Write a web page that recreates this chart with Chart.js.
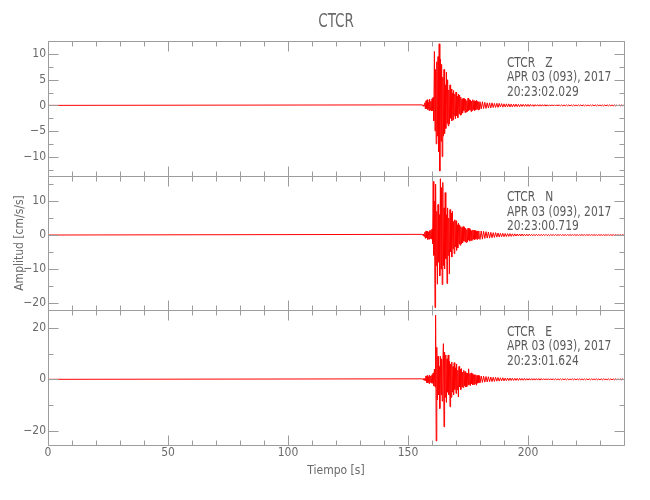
<!DOCTYPE html>
<html>
<head>
<meta charset="utf-8">
<script src="https://cdn.jsdelivr.net/npm/chart.js@4.4.1/dist/chart.umd.min.js"></script>
<style>
  html, body { margin: 0; padding: 0; background: #fff; }
  #sismo { display: block; }
</style>
</head>
<body>
<canvas id="sismo" width="650" height="500"></canvas>
<script>
  // estacion y componentes
  const titulo = "CTCR";
  const componentes = ["Z", "N", "E"];
  const fecha = "APR 03 (093), 2017";
  const horas = ["20:23:02.029", "20:23:00.719", "20:23:01.624"];

  // ejes
  const ejeX = { min: 0, max: 240, paso: 50, menor: 10 };
  const rangosY = [[-13.7, 12.55], [-22.2, 17.5], [-25.6, 26.9]];
  const pasosY = [5, 10, 20];
  const menoresY = [2.5, 5, 10];

  // antes de la llegada la traza es practicamente plana
  const tiempoPrevio = 0;
  const valorPrevio = 0;

  // fase fuerte: muestras cada 0.25 s desde 156 s (cm/s/s)
  const inicioFino = 156;
  const pasoFino = 0.25;

  const finoZ = [
    0.1, -0.15, 0.1, -0.1, 0.5, -0.7, 0.9, -0.6,
    1.1, -0.8, 0.6, -1.0, 1.2, -0.9, 0.8, -1.1,
    1.3, -1.0, 1.6, -3.0, 10.5, -5.0, 7.0, -7.5,
    8.5, -6.0, 9.5, -9.0, 12.0, -12.8, 9.0, -7.0,
    8.0, -10.0, 5.5, -6.0, 7.0, -5.5, 4.0, -4.5,
    6.5, -3.5, 5.0, -4.0, 3.0, -3.6, 4.0, -2.5,
    3.2, -3.0, 2.4, -2.8, 2.9, -2.0, 2.2, -2.6,
    2.6, -2.0, 1.8, -2.4, 2.2, -1.6, 2.0, -1.9,
    1.6, -1.8, 1.2, -1.5, 1.4, -1.0, 1.3, -1.4,
    1.2, -1.3, 0.9, -1.2, 1.4, -1.0, 1.1, -0.9,
    1.0, -1.2, 0.8, -1.0, 1.1, -0.8, 0.9, -1.0,
    0.8, -0.9, 1.0, -0.7, 0.8, -0.9, 0.7, -0.8
  ];

  const finoN = [
    0.2, -0.2, 0.3, -0.4, 0.8, -1.0, 1.2, -0.8,
    1.1, -1.3, 0.9, -1.2, 1.3, -1.0, 1.4, -1.2,
    1.8, -2.5, 15.8, -6.0, 10.0, -21.4, 15.0, -9.0,
    7.0, -14.5, 9.0, -8.0, 6.0, -12.0, 16.6, -10.0,
    14.0, -14.6, 15.5, -9.0, 8.0, -10.0, 12.5, -7.0,
    6.0, -14.3, 8.0, -6.0, 5.0, -11.5, 7.5, -5.0,
    6.5, -6.5, 7.0, -4.0, 4.0, -5.5, 4.5, -3.5,
    4.2, -4.5, 3.0, -3.8, 3.5, -2.6, 3.0, -3.0,
    2.5, -2.6, 2.2, -2.3, 2.5, -1.8, 2.3, -2.0,
    2.0, -2.2, 1.6, -2.0, 2.0, -1.5, 1.9, -1.8,
    1.6, -1.6, 1.3, -1.5, 1.5, -1.2, 1.4, -1.4,
    1.3, -1.2, 1.1, -1.3, 1.2, -1.0, 1.2, -1.1
  ];

  const finoE = [
    0.2, -0.2, 0.3, -0.3, 0.4, -0.6, 1.3, -1.2,
    1.5, -1.4, 1.0, -1.6, 1.6, -1.1, 1.3, -1.5,
    1.8, -1.5, 2.5, -2.5, 4.0, -3.0, 25.0, -24.0,
    12.5, -8.0, 9.0, -6.0, 5.0, -11.4, 9.0, -6.0,
    8.0, -8.5, 6.0, 13.9, -18.5, 10.6, -7.0, 9.5,
    -9.0, 8.0, -5.0, 9.5, -6.0, 7.0, -10.7, 6.0,
    -7.0, 6.7, -5.0, 5.0, -6.0, 6.5, -4.0, 4.5,
    -5.5, 6.0, -4.0, 3.5, -6.9, 5.0, -3.0, 4.0,
    -4.0, 4.2, -3.0, 2.8, -3.2, 3.5, -2.5, 3.0,
    -3.0, 2.5, -2.8, 2.4, -2.2, 4.1, -2.0, 2.2,
    -2.5, 2.5, -1.8, 2.2, -2.2, 1.8, -2.0, 1.8,
    -1.6, 1.8, -2.3, 1.4, -1.5, 1.6, -1.3, 1.4
  ];

  // coda: muestras cada 0.5 s desde 180 s hasta 240 s
  const inicioGrueso = 180;
  const pasoGrueso = 0.5;

  const gruesoZ = [
    0.7, -0.7, 0.7, -0.6, 0.6, -0.6, 0.5, -0.5, 0.5, -0.5,
    0.5, -0.4, 0.4, -0.4, 0.4, -0.4, 0.4, -0.3, 0.35, -0.35,
    0.3, -0.3, 0.3, -0.3, 0.3, -0.3, 0.25, -0.3, 0.25, -0.25,
    0.25, -0.25, 0.2, -0.25, 0.2, -0.2, 0.2, -0.2, 0.2, -0.2,
    0.2, -0.2, 0.2, -0.15, 0.15, -0.2, 0.15, -0.15, 0.15, -0.15,
    0.15, -0.15, 0.15, -0.15, 0.15, -0.15, 0.12, -0.15, 0.12, -0.12,
    0.12, -0.12, 0.12, -0.12, 0.12, -0.1, 0.12, -0.12, 0.1, -0.12,
    0.1, -0.1, 0.12, -0.1, 0.1, -0.1, 0.1, -0.12, 0.1, -0.1,
    0.1, -0.1, 0.1, -0.08, 0.1, -0.1, 0.1, -0.1, 0.08, -0.1,
    0.1, -0.1, 0.1, -0.1, 0.12, -0.1, 0.1, -0.1, 0.1, -0.08,
    0.1, -0.1, 0.08, -0.1, 0.1, -0.1, 0.1, -0.1, 0.1, -0.1,
    0.1, -0.1, 0.1, -0.1, 0.08, -0.1, 0.1, -0.1, 0.1, -0.1,
    0.1
  ];

  const gruesoN = [
    -1.3, 1.2, -1.2, 1.1, -1.0, 1.0, -0.9, 0.9, -0.9, 0.8,
    -0.8, 0.7, -0.7, 0.7, -0.6, 0.6, -0.6, 0.5, -0.5, 0.5,
    -0.5, 0.45, -0.45, 0.4, -0.4, 0.4, -0.4, 0.35, -0.35, 0.35,
    -0.3, 0.3, -0.3, 0.3, -0.3, 0.3, -0.25, 0.25, -0.25, 0.25,
    -0.25, 0.25, -0.2, 0.2, -0.2, 0.2, -0.2, 0.2, -0.2, 0.2,
    -0.2, 0.2, -0.2, 0.18, -0.18, 0.18, -0.18, 0.15, -0.15, 0.15,
    -0.15, 0.15, -0.15, 0.15, -0.15, 0.15, -0.12, 0.15, -0.15, 0.12,
    -0.12, 0.12, -0.12, 0.12, -0.12, 0.12, -0.12, 0.12, -0.1, 0.12,
    -0.12, 0.1, -0.12, 0.1, -0.1, 0.12, -0.1, 0.1, -0.1, 0.1,
    -0.1, 0.1, -0.1, 0.12, -0.1, 0.1, -0.1, 0.1, -0.12, 0.1,
    -0.1, 0.1, -0.1, 0.1, -0.1, 0.1, -0.08, 0.1, -0.1, 0.1,
    -0.1, 0.1, -0.1, 0.1, -0.1, 0.08, -0.1, 0.1, -0.1, 0.1,
    -0.1
  ];

  const gruesoE = [
    -1.4, 1.3, -1.2, 1.2, -1.1, 1.1, -1.0, 1.0, -0.9, 0.9,
    -0.9, 0.8, -0.8, 0.8, -0.7, 0.7, -0.7, 0.6, -0.6, 0.6,
    -0.6, 0.5, -0.5, 0.5, -0.5, 0.5, -0.45, 0.45, -0.45, 0.4,
    -0.4, 0.4, -0.4, 0.4, -0.35, 0.35, -0.35, 0.35, -0.35, 0.3,
    -0.3, 0.3, -0.3, 0.3, -0.3, 0.3, -0.3, 0.3, -0.3, 0.3,
    -0.3, 0.3, -0.25, 0.25, -0.25, 0.25, -0.25, 0.25, -0.25, 0.25,
    -0.25, 0.25, -0.22, 0.22, -0.22, 0.22, -0.2, 0.22, -0.2, 0.2,
    -0.2, 0.2, -0.2, 0.2, -0.2, 0.2, -0.2, 0.2, -0.2, 0.2,
    -0.2, 0.2, -0.18, 0.2, -0.2, 0.2, -0.2, 0.18, -0.2, 0.2,
    -0.2, 0.2, -0.2, 0.2, -0.18, 0.2, -0.2, 0.2, -0.2, 0.18,
    -0.2, 0.2, -0.2, 0.2, -0.2, 0.18, -0.2, 0.2, -0.2, 0.2,
    -0.2, 0.18, -0.2, 0.2, -0.2, 0.2, -0.18, 0.2, -0.2, 0.2,
    -0.2
  ];

  const FUENTE = "'Liberation Sans Narrow', 'DejaVu Sans Condensed', sans-serif";
  const GRIS_TEXTO = "#6a6a6a";
  const GRIS_EJE = "#9c9c9c";
  const ROJO = "#ff0000";

  Chart.defaults.font.family = FUENTE;
  Chart.defaults.color = GRIS_TEXTO;

  function serie(fino, grueso) {
    const puntos = [{ x: tiempoPrevio, y: valorPrevio }];
    fino.forEach((v, i) => {
      puntos.push({ x: inicioFino + i * pasoFino, y: v });
    });
    grueso.forEach((v, i) => {
      puntos.push({ x: inicioGrueso + i * pasoGrueso, y: v });
    });
    return puntos;
  }

  function formatoY(v) {
    if (v === 0) return "0";
    return v < 0 ? "\u2212" + Math.abs(v) : String(v);
  }

  function escalaY(k, conTitulo) {
    return {
      type: "linear",
      position: "left",
      stack: "ondas",
      stackWeight: 1,
      min: rangosY[k][0],
      max: rangosY[k][1],
      grid: { display: false, drawTicks: false },
      border: { display: false },
      ticks: {
        stepSize: pasosY[k],
        includeBounds: false,
        padding: 2,
        color: GRIS_TEXTO,
        font: { size: 12 },
        callback: (v) => formatoY(v)
      },
      title: {
        display: conTitulo,
        text: "Amplitud [cm/s/s]",
        color: GRIS_TEXTO,
        font: { size: 12 },
        padding: { top: 13, bottom: 0 }
      },
      afterFit: (s) => { s.width = 48; }
    };
  }

  // marco de cada panel con marcas hacia adentro, rotulos y titulo
  const marcoSismo = {
    id: "marcoSismo",
    afterDraw(chart) {
      const { ctx, chartArea, scales } = chart;
      const x = scales.x;
      const l = Math.round(chartArea.left) + 0.5;
      const r = Math.round(chartArea.right) + 0.5;
      ctx.save();
      ctx.strokeStyle = GRIS_EJE;
      ctx.lineWidth = 1;
      ["y1", "y2", "y3"].forEach((id, k) => {
        const s = scales[id];
        const arriba = Math.round(s.top) + 0.5;
        const abajo = Math.round(s.bottom) + 0.5;
        ctx.beginPath();
        ctx.rect(l, arriba, r - l, abajo - arriba);
        for (let t = ejeX.min; t <= ejeX.max; t += ejeX.menor) {
          const px = Math.round(x.getPixelForValue(t)) + 0.5;
          const largo = t % ejeX.paso === 0 ? 10 : 5;
          ctx.moveTo(px, arriba);
          ctx.lineTo(px, arriba + largo);
          ctx.moveTo(px, abajo);
          ctx.lineTo(px, abajo - largo);
        }
        const [bajo, alto] = rangosY[k];
        const m = menoresY[k];
        for (let v = Math.ceil(bajo / m) * m; v <= alto; v += m) {
          const py = Math.round(s.getPixelForValue(v)) + 0.5;
          const largo = Math.abs(v % pasosY[k]) < 1e-6 ? 10 : 5;
          ctx.moveTo(l, py);
          ctx.lineTo(l + largo, py);
          ctx.moveTo(r, py);
          ctx.lineTo(r - largo, py);
        }
        ctx.stroke();

        // rotulo de la traza, algo comprimido como la fuente original
        ctx.save();
        ctx.fillStyle = "#5a5a5a";
        ctx.font = "14px " + FUENTE;
        ctx.textAlign = "left";
        ctx.textBaseline = "alphabetic";
        ctx.translate(x.getPixelForValue(191.2), s.top);
        ctx.scale(0.85, 1);
        const lineas = [titulo + "   " + componentes[k], fecha, horas[k]];
        lineas.forEach((txt, j) => {
          ctx.fillText(txt, 0, 25.5 + j * 14.5);
        });
        ctx.restore();
      });

      ctx.fillStyle = GRIS_TEXTO;
      ctx.font = "20px " + FUENTE;
      ctx.textAlign = "center";
      ctx.textBaseline = "middle";
      ctx.translate((chartArea.left + chartArea.right) / 2, 22);
      ctx.scale(0.75, 1);
      ctx.fillText(titulo, 0, 0);
      ctx.restore();
    }
  };

  const finos = [finoZ, finoN, finoE];
  const gruesos = [gruesoZ, gruesoN, gruesoE];

  new Chart(document.getElementById("sismo"), {
    type: "line",
    data: {
      datasets: componentes.map((c, k) => ({
        label: titulo + " " + c,
        data: serie(finos[k], gruesos[k]),
        yAxisID: "y" + (k + 1),
        borderColor: ROJO,
        borderWidth: 1,
        pointRadius: 0,
        tension: 0,
        fill: false
      }))
    },
    options: {
      responsive: false,
      animation: false,
      devicePixelRatio: 1,
      layout: { padding: { top: 41, right: 26, left: 0, bottom: 0 } },
      plugins: {
        legend: { display: false },
        tooltip: { enabled: false }
      },
      scales: {
        x: {
          type: "linear",
          min: ejeX.min,
          max: ejeX.max,
          grid: { display: false, drawTicks: false },
          border: { display: false },
          ticks: {
            stepSize: ejeX.paso,
            includeBounds: false,
            padding: 1,
            maxRotation: 0,
            color: GRIS_TEXTO,
            font: { size: 12 },
            callback: (v) => (v % ejeX.paso === 0 ? String(v) : "")
          },
          title: {
            display: true,
            text: "Tiempo [s]",
            color: GRIS_TEXTO,
            font: { size: 12 },
            padding: { top: 0, bottom: 22 }
          },
          afterFit: (s) => { s.height = 55; }
        },
        // el apilado coloca la primera escala abajo
        y3: escalaY(2, false),
        y2: escalaY(1, true),
        y1: escalaY(0, false)
      }
    },
    plugins: [marcoSismo]
  });
</script>
</body>
</html>
